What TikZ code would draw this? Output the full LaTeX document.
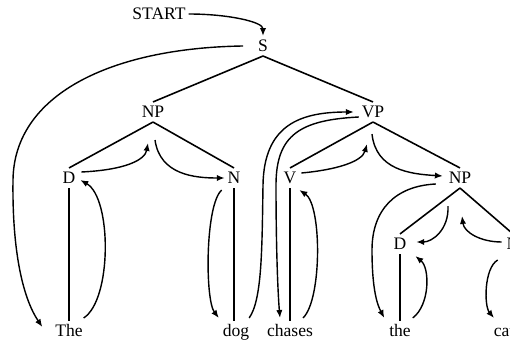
\documentclass[tikz,border=0pt]{standalone}
\usepackage{fontspec}
\setmainfont{Liberation Serif}
\usepackage{tikz}
\usetikzlibrary{arrows.meta,calc}

\begin{document}
\begin{tikzpicture}[
  x=0.02cm, y=-0.02cm,
  every node/.style={font=\fontsize{10}{12}\selectfont},
  lab/.style   ={inner sep=1.5pt, text height=1.5ex, text depth=.25ex},
  branch/.style={line width=0.9pt},
  arr/.style   ={-{Latex[length=4.5pt,width=3.6pt]}, line width=0.8pt}]

\useasboundingbox (0,0) rectangle (510,340);
\clip (0,0) rectangle (510,340);

%% ── Category nodes ───────────────────────────────────────────────
\node[lab] (start) at (159, 14) {START};
\node[lab] (s)     at (263, 46) {S};
\node[lab] (np1)   at (153,112) {NP};
\node[lab] (vp)    at (373,112) {VP};
\node[lab] (d1)    at ( 69,178) {D};
\node[lab] (n1)    at (234,178) {N};
\node[lab] (v)     at (290,178) {V};
\node[lab] (np2)   at (460,178) {NP};
\node[lab] (d2)    at (400,244) {D};
\node[lab] (n2)    at (513,244) {N};

%% ── Words ────────────────────────────────────────────────────────
\node[lab] (the1)   at ( 69,331) {The};
\node[lab] (dog)    at (236,331) {dog};
\node[lab] (chases) at (290,331) {chases};
\node[lab] (the2)   at (400,331) {the};
\node[lab] (cat)    at (504,331) {cat};

%% ── Tree branches ────────────────────────────────────────────────
\draw[branch] (s.south)   -- (np1.north);
\draw[branch] (s.south)   -- (vp.north);
\draw[branch] (np1.south) -- (d1.north);
\draw[branch] (np1.south) -- (n1.north);
\draw[branch] (vp.south)  -- (v.north);
\draw[branch] (vp.south)  -- (np2.north);
\draw[branch] (np2.south) -- (d2.north);
\draw[branch] (np2.south) -- (n2.north);

%% ── Leaf lines (kept vertical) ───────────────────────────────────
\draw[branch] (d1.south) -- (d1.south |- the1.north);
\draw[branch] (n1.south) -- (n1.south |- dog.north);
\draw[branch] (v.south)  -- (v.south |- chases.north);
\draw[branch] (d2.south) -- (d2.south |- the2.north);
\draw[branch] (n2.south) -- (n2.south |- cat.north);

%% ── Parsing path: subject NP ─────────────────────────────────────
\draw[arr] (start.east) .. controls +(40,0) and +(0,-14) .. (s.north);
\draw[arr] ($(s.west)+(-12,0)$) .. controls (110,48) and (14,95) .. (13,180)
           .. controls (12,255) and (24,300) .. ($(the1.west)+(-10,-4)$);
\draw[arr] ($(the1.north east)+(-2,-3)$) .. controls (112,300) and (112,198) .. ($(d1.east)+(2,2)$);
\draw[arr] ($(d1.east)+(3,-6)$) .. controls (125,170) and (145,160) .. ($(np1.south)+(-5,21)$);
\draw[arr] ($(np1.south)+(2,18)$) .. controls (160,175) and (195,178) .. (n1.west);
\draw[arr] ($(n1.south west)+(-3,2)$) .. controls (205,205) and (205,300) .. ($(dog.north west)+(-1,-3)$);

%% ── Parsing path: VP ─────────────────────────────────────────────
\draw[arr] ($(dog.north east)+(-3,-3)$) .. controls (262,300) and (262,250) .. (263,185)
           .. controls (264,125) and (300,112) .. ($(vp.west)+(-5,0)$);
\draw[arr] ($(vp.west)+(0,5)$) .. controls (300,120) and (276,135) .. (276,185)
           .. controls (276,250) and (278,295) .. ($(chases.north)+(-10,-3)$);
\draw[arr] ($(chases.north)+(13,-3)$) .. controls (322,300) and (322,205) .. ($(v.south east)+(0,2)$);
\draw[arr] ($(v.east)+(2,-5)$) .. controls (335,170) and (362,162) .. ($(vp.south)+(-6,22)$);
\draw[arr] ($(vp.south)+(-1,12)$) .. controls (376,170) and (410,174) .. ($(np2.west)+(-3,-2)$);

%% ── Parsing path: object NP ──────────────────────────────────────
\draw[arr] ($(np2.west)+(-10,6)$) .. controls (395,186) and (372,210) .. (372,250)
           .. controls (372,292) and (378,306) .. ($(the2.north west)+(-2,-3)$);
\draw[arr] ($(np2.south)+(-12,18)$) .. controls (449,230) and (432,242) .. ($(d2.east)+(7,-2)$);
\draw[arr] ($(the2.north east)+(-1,-3)$) .. controls (430,305) and (430,268) .. ($(d2.south east)+(6,2)$);
\draw[arr] ($(n2.west)+(-2,-2)$) .. controls (480,242) and (464,232) .. ($(np2.south)+(2,28)$);
\draw[arr] ($(n2.south west)+(-6,6)$) .. controls (484,268) and (484,306) .. ($(cat.north)+(-10,-3)$);
\end{tikzpicture}
\end{document}
